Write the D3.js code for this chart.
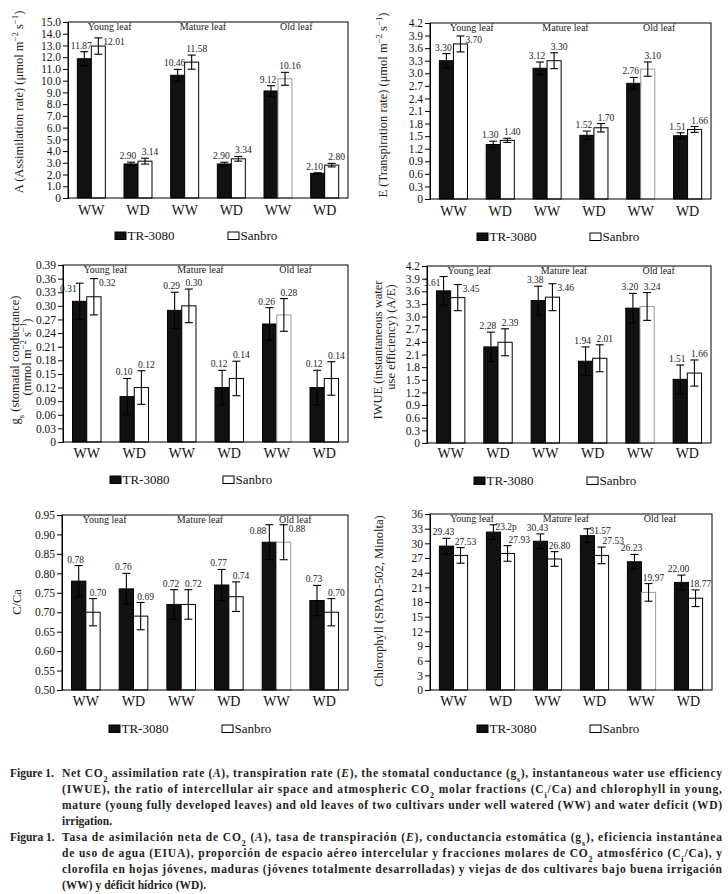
<!DOCTYPE html>
<html>
<head>
<meta charset="utf-8">
<script src="https://cdn.jsdelivr.net/npm/d3@7/dist/d3.min.js"></script>
<style>
  body { margin: 0; background: #fff; }
  svg { display: block; }
  text { font-family: "Liberation Serif", "DejaVu Serif", serif; }
</style>
</head>
<body>
<svg id="fig" width="728" height="894"></svg>
<script>
// categories
var treatments = ["WW", "WD", "WW", "WD", "WW", "WD"];
var leafStages = ["Young leaf", "Mature leaf", "Old leaf"];
var cultivars = ["TR-3080", "Sanbro"];

// A (assimilation rate)
var aTicks = [0, 1, 2, 3, 4, 5, 6, 7, 8, 9, 10, 11, 12, 13, 14, 15];
var aTR = [11.87, 2.90, 10.46, 2.90, 9.12, 2.10];
var aSB = [12.95, 3.14, 11.58, 3.34, 10.16, 2.80];
var aTRerr = [0.6, 0.15, 0.5, 0.15, 0.45, 0.05];
var aSBerr = [0.7, 0.25, 0.6, 0.2, 0.55, 0.15];
var aTRlab = ["11.87", "2.90", "10.46", "2.90", "9.12", "2.10"];
var aSBlab = ["12.01", "3.14", "11.58", "3.34", "10.16", "2.80"];

// E (transpiration rate)
var eTicks = [0, 0.3, 0.6, 0.9, 1.2, 1.5, 1.8, 2.1, 2.4, 2.7, 3.0, 3.3, 3.6, 3.9, 4.2];
var eTR = [3.30, 1.30, 3.12, 1.52, 2.76, 1.51];
var eSB = [3.70, 1.40, 3.30, 1.70, 3.10, 1.66];
var eTRerr = [0.17, 0.08, 0.15, 0.1, 0.14, 0.07];
var eSBerr = [0.19, 0.05, 0.19, 0.1, 0.17, 0.07];
var eTRlab = ["3.30", "1.30", "3.12", "1.52", "2.76", "1.51"];
var eSBlab = ["3.70", "1.40", "3.30", "1.70", "3.10", "1.66"];

// gs (stomatal conductance)
var gTicks = [0, 0.03, 0.06, 0.09, 0.12, 0.15, 0.18, 0.21, 0.24, 0.27, 0.30, 0.33, 0.36, 0.39];
var gTR = [0.31, 0.10, 0.29, 0.12, 0.26, 0.12];
var gSB = [0.32, 0.12, 0.30, 0.14, 0.28, 0.14];
var gTRerr = [0.04, 0.04, 0.04, 0.038, 0.036, 0.038];
var gSBerr = [0.04, 0.037, 0.037, 0.038, 0.036, 0.037];
var gTRlab = ["0.31", "0.10", "0.29", "0.12", "0.26", "0.12"];
var gSBlab = ["0.32", "0.12", "0.30", "0.14", "0.28", "0.14"];

// IWUE
var wTicks = [0, 0.3, 0.6, 0.9, 1.2, 1.5, 1.8, 2.1, 2.4, 2.7, 3.0, 3.3, 3.6, 3.9, 4.2];
var wTR = [3.61, 2.28, 3.38, 1.94, 3.20, 1.51];
var wSB = [3.45, 2.39, 3.46, 2.01, 3.24, 1.66];
var wTRerr = [0.34, 0.35, 0.34, 0.34, 0.35, 0.34];
var wSBerr = [0.31, 0.32, 0.32, 0.32, 0.33, 0.31];
var wTRlab = ["3.61", "2.28", "3.38", "1.94", "3.20", "1.51"];
var wSBlab = ["3.45", "2.39", "3.46", "2.01", "3.24", "1.66"];

// Ci/Ca
var cTicks = [0.50, 0.55, 0.60, 0.65, 0.70, 0.75, 0.80, 0.85, 0.90, 0.95];
var cTR = [0.78, 0.76, 0.72, 0.77, 0.88, 0.73];
var cSB = [0.70, 0.69, 0.72, 0.74, 0.88, 0.70];
var cTRerr = [0.04, 0.04, 0.038, 0.04, 0.045, 0.039];
var cSBerr = [0.035, 0.035, 0.038, 0.038, 0.045, 0.035];
var cTRlab = ["0.78", "0.76", "0.72", "0.77", "0.88", "0.73"];
var cSBlab = ["0.70", "0.69", "0.72", "0.74", "0.88", "0.70"];

// chlorophyll (SPAD)
var sTicks = [0, 3, 6, 9, 12, 15, 18, 21, 24, 27, 30, 33, 36];
var sTR = [29.43, 32.3, 30.43, 31.57, 26.23, 22.00];
var sSB = [27.53, 27.93, 26.80, 27.53, 19.97, 18.77];
var sTRerr = [1.6, 1.5, 1.5, 1.4, 1.5, 1.5];
var sSBerr = [1.6, 1.6, 1.5, 1.7, 1.8, 1.7];
var sTRlab = ["29.43", "23.2p", "30.43", "31.57", "26.23", "22.00"];
var sSBlab = ["27.53", "27.93", "26.80", "27.53", "19.97", "18.77"];

var svg = d3.select("#fig");

var unit = [["(", ""], ["\u03bc", ""], ["mol m", ""], ["\u22122", "sup"], [" s", ""], ["\u22121", "sup"], [")", ""]];

var panels = [
  { x0: 68, x1: 348, y0: 22, y1: 198, domain: [0, 15], ticks: aTicks, dec: 1,
    tr: aTR, sb: aSB, trErr: aTRerr, sbErr: aSBerr, trLab: aTRlab, sbLab: aSBlab,
    xLabY: 215, legY: 240,
    titles: [{ x: 19, y: 102, segs: [["A (Assimilation rate) ", ""]].concat(unit) }] },
  { x0: 430, x1: 711, y0: 23, y1: 199, domain: [0, 4.2], ticks: eTicks, dec: 1,
    tr: eTR, sb: eSB, trErr: eTRerr, sbErr: eSBerr, trLab: eTRlab, sbLab: eSBlab,
    xLabY: 216, legY: 241,
    titles: [{ x: 383, y: 105, segs: [["E (Transpiration rate) ", ""]].concat(unit) }] },
  { x0: 63, x1: 348, y0: 265, y1: 442, domain: [0, 0.39], ticks: gTicks, dec: 2,
    tr: gTR, sb: gSB, trErr: gTRerr, sbErr: gSBerr, trLab: gTRlab, sbLab: gSBlab,
    xLabY: 458, legY: 484,
    titles: [{ x: 15, y: 360, segs: [["g", ""], ["s", "sub"], [" (stomatal conductance)", ""]] },
             { x: 27, y: 357, segs: [["(mmol m", ""], ["\u22122", "sup"], [" s", ""], ["\u22121", "sup"], [")", ""]] }] },
  { x0: 427, x1: 711, y0: 266, y1: 443, domain: [0, 4.2], ticks: wTicks, dec: 1,
    tr: wTR, sb: wSB, trErr: wTRerr, sbErr: wSBerr, trLab: wTRlab, sbLab: wSBlab,
    xLabY: 458, legY: 485,
    titles: [{ x: 378, y: 350, segs: [["IWUE (instantaneous water", ""]] },
             { x: 391, y: 337, segs: [["use efficiency) (A/E)", ""]] }] },
  { x0: 62, x1: 348, y0: 515, y1: 690, domain: [0.5, 0.95], ticks: cTicks, dec: 2,
    tr: cTR, sb: cSB, trErr: cTRerr, sbErr: cSBerr, trLab: cTRlab, sbLab: cSBlab,
    xLabY: 706, legY: 733,
    titles: [{ x: 17, y: 602, segs: [["C/Ca", ""]] }] },
  { x0: 430, x1: 712, y0: 514, y1: 690, domain: [0, 36], ticks: sTicks, dec: 0,
    tr: sTR, sb: sSB, trErr: sTRerr, sbErr: sSBerr, trLab: sTRlab, sbLab: sSBlab,
    xLabY: 706, legY: 733,
    titles: [{ x: 379, y: 601, segs: [["Chlorophyll (SPAD-502, Minolta)", ""]] }] }
];

// write text made of segments (plain / sup / sub / italic) into a text node
function addSegs(sel, segs) {
  segs.forEach(function(s) {
    var t = sel.append("tspan").text(s[0]);
    if (s[1] === "sup") t.attr("baseline-shift", "super").attr("font-size", "70%");
    if (s[1] === "sub") t.attr("baseline-shift", "sub").attr("font-size", "70%");
    if (s[1] === "i") t.attr("font-style", "italic");
  });
}

function drawPanel(p) {
  var g = svg.append("g");
  var x = d3.scaleBand().domain(d3.range(treatments.length)).range([p.x0, p.x1]);
  var y = d3.scaleLinear().domain(p.domain).range([p.y1, p.y0]);
  var bw = x.bandwidth() * 0.3;
  var base = y(p.domain[0]);
  var crowd = p.y0 + 19; // caps above this line push the label beside the cap

  var series = [
    { vals: p.tr, err: p.trErr, lab: p.trLab, off: -bw, fill: "#111" },
    { vals: p.sb, err: p.sbErr, lab: p.sbLab, off: 0, fill: "#fff" }
  ];
  var cxOf = function(s, i) { return x(i) + x.bandwidth() / 2 + s.off + bw / 2; };

  series.forEach(function(s, si) {
    g.selectAll(null).data(s.vals).enter().append("rect")
      .attr("x", function(d, i) { return x(i) + x.bandwidth() / 2 + s.off; })
      .attr("y", function(d) { return y(d); })
      .attr("width", bw)
      .attr("height", function(d) { return base - y(d); })
      .attr("fill", s.fill)
      .attr("stroke", function(d, i) { return (si === 1 && i === 4) ? "#9a9a9a" : "#000"; })
      .attr("stroke-width", 1);

    // error bars
    s.vals.forEach(function(d, i) {
      var xc = cxOf(s, i), top = y(d + s.err[i]), bot = y(d - s.err[i]);
      g.append("line").attr("x1", xc).attr("x2", xc).attr("y1", top).attr("y2", bot)
        .attr("stroke", "#000").attr("stroke-width", 1.1);
      [top, bot].forEach(function(yy) {
        g.append("line").attr("x1", xc - 4).attr("x2", xc + 4).attr("y1", yy).attr("y2", yy)
          .attr("stroke", "#000").attr("stroke-width", 1.1);
      });
    });
  });

  // value labels: above the cap, or beside it when the cap is close to the top
  treatments.forEach(function(t, i) {
    var capB = y(p.tr[i] + p.trErr[i]), capW = y(p.sb[i] + p.sbErr[i]);
    var cxB = cxOf(series[0], i), cxW = cxOf(series[1], i);
    var sideB = capB < crowd, sideW = capW < crowd;
    var lab = function(xx, yy, anchor, txt) {
      g.append("text").attr("x", xx).attr("y", yy).attr("text-anchor", anchor)
        .attr("font-size", 9.5).attr("fill", "#222").text(txt);
    };
    if (sideW) lab(cxW + 5, capW + 7, "start", p.sbLab[i]);
    else if (sideB) lab(cxW + 1, capW - 3, "start", p.sbLab[i]);
    else lab(cxW + 5, capW - 3, "middle", p.sbLab[i]);
    if (sideB && sideW) lab(cxB - 3, capB + 9, "end", p.trLab[i]);
    else if (sideB) lab(cxB + 2, capB + 5, "start", p.trLab[i]);
    else lab(cxB - 3, capB - 3, "middle", p.trLab[i]);
  });

  // frame
  g.append("rect").attr("x", p.x0).attr("y", p.y0)
    .attr("width", p.x1 - p.x0).attr("height", p.y1 - p.y0)
    .attr("fill", "none").attr("stroke", "#000").attr("stroke-width", 1);

  var fmt = function(d) { return d === 0 ? "0" : d.toFixed(p.dec); };
  var ax = g.append("g").attr("transform", "translate(" + p.x0 + ",0)")
    .call(d3.axisLeft(y).tickValues(p.ticks).tickSize(5).tickPadding(2).tickFormat(fmt));
  ax.attr("font-family", null).attr("font-size", null);
  ax.selectAll("text").attr("font-size", 11.5).attr("fill", "#111");
  ax.selectAll("line").attr("stroke", "#000");
  ax.select(".domain").attr("stroke", "#000");

  // treatment labels under the bars
  g.selectAll(null).data(treatments).enter().append("text")
    .attr("x", function(d, i) { return x(i) + x.bandwidth() / 2; })
    .attr("y", p.xLabY)
    .attr("text-anchor", "middle")
    .attr("font-size", 14)
    .attr("fill", "#111")
    .text(function(d) { return d; });

  // leaf stage headers
  g.selectAll(null).data(leafStages).enter().append("text")
    .attr("x", function(d, k) { return x(2 * k) + x.bandwidth() - 5; })
    .attr("y", p.y0 + 8)
    .attr("text-anchor", "middle")
    .attr("font-size", 10)
    .attr("fill", "#222")
    .text(function(d) { return d; });

  // axis titles
  p.titles.forEach(function(t) {
    var tt = g.append("text")
      .attr("transform", "translate(" + t.x + "," + t.y + ") rotate(-90)")
      .attr("dy", "0.35em")
      .attr("text-anchor", "middle")
      .attr("font-size", 12.5)
      .attr("fill", "#222");
    addSegs(tt, t.segs);
  });

  // legend
  [47, 160].forEach(function(off, k) {
    g.append("rect").attr("x", p.x0 + off).attr("y", p.legY - 8)
      .attr("width", 11).attr("height", 7.5)
      .attr("fill", k === 0 ? "#111" : "#fff").attr("stroke", "#000").attr("stroke-width", 1);
    g.append("text").attr("x", p.x0 + off + 12.5).attr("y", p.legY)
      .attr("font-size", 13).attr("fill", "#111").text(cultivars[k]);
  });
}

panels.forEach(drawPanel);

// caption
var capLines = [
  { lead: "Figure 1.", y: 777, just: true, segs: [["Net CO", ""], ["2", "sub"], [" assimilation rate (", ""], ["A", "i"], ["), transpiration rate (", ""], ["E", "i"], ["), the stomatal conductance (g", ""], ["s", "sub"], ["), instantaneous water use efficiency", ""]] },
  { y: 793, just: true, segs: [["(IWUE), the ratio of intercellular air space and atmospheric CO", ""], ["2", "sub"], [" molar fractions (C", ""], ["i", "sub"], ["/Ca) and chlorophyll in young,", ""]] },
  { y: 809, just: true, segs: [["mature (young fully developed leaves) and old leaves of two cultivars under well watered (WW) and water deficit (WD)", ""]] },
  { y: 825, just: false, segs: [["irrigation.", ""]] },
  { lead: "Figura 1.", y: 841, just: true, segs: [["Tasa de asimilaci\u00f3n neta de CO", ""], ["2", "sub"], [" (", ""], ["A", "i"], ["), tasa de transpiraci\u00f3n (", ""], ["E", "i"], ["), conductancia estom\u00e1tica (g", ""], ["s", "sub"], ["), eficiencia instant\u00e1nea", ""]] },
  { y: 857, just: true, segs: [["de uso de agua (EIUA), proporci\u00f3n de espacio a\u00e9reo intercelular y fracciones molares de CO", ""], ["2", "sub"], [" atmosf\u00e9rico (C", ""], ["i", "sub"], ["/Ca), y", ""]] },
  { y: 873, just: true, segs: [["clorofila en hojas j\u00f3venes, maduras (j\u00f3venes totalmente desarrolladas) y viejas de dos cultivares bajo buena irrigaci\u00f3n", ""]] },
  { y: 889, just: false, segs: [["(WW) y d\u00e9ficit h\u00eddrico (WD).", ""]] }
];

var cap = svg.append("g").attr("font-weight", "bold").attr("font-size", 11.5).attr("fill", "#222");
capLines.forEach(function(l) {
  if (l.lead) cap.append("text").attr("x", 10).attr("y", l.y).text(l.lead);
  var t = cap.append("text").attr("x", 62).attr("y", l.y);
  if (l.just) t.attr("textLength", 660).attr("lengthAdjust", "spacing");
  addSegs(t, l.segs);
});
</script>
</body>
</html>
